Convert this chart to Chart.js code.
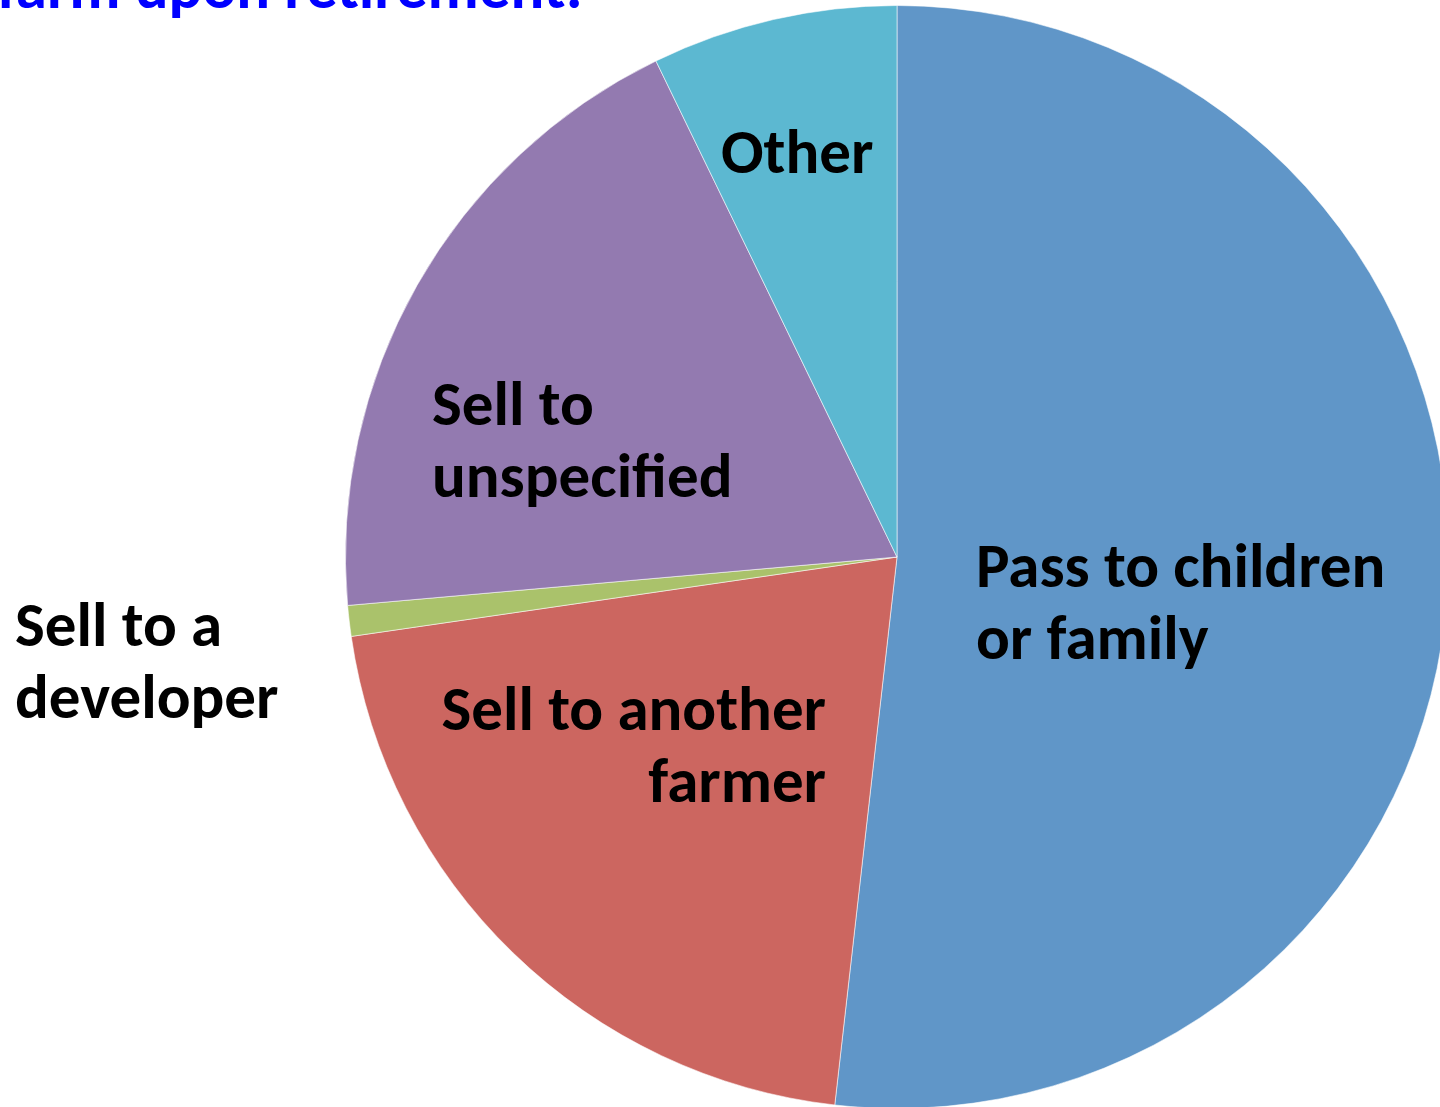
<!DOCTYPE html>
<html>
<head>
<meta charset="utf-8">
<script src="https://cdn.jsdelivr.net/npm/chart.js@4.4.1/dist/chart.umd.min.js"></script>
<style>
    html, body { margin: 0; padding: 0; background: #fff; overflow: hidden; }
    #wrap { position: absolute; left: 0; top: 0; width: 1500px; height: 1120px; }
</style>
</head>
<body>
<div id="wrap"><canvas id="myChart" width="1500" height="1120"></canvas></div>
<script>
// data (percent of respondents)
var categories = ['Pass to children or family', 'Sell to another farmer', 'Sell to a developer', 'Sell to unspecified', 'Other'];
var shares = [51.8, 20.9, 0.9, 19.2, 7.2];
var sliceColors = ['#6096C8', '#CC6660', '#AAC26B', '#937AB0', '#5CB8D1'];

// label text as it is wrapped in the picture
var labelLines = [
    ['Pass to children', 'or family'],
    ['Sell to another', 'farmer'],
    ['Sell to a', 'developer'],
    ['Sell to', 'unspecified'],
    ['Other']
];
// where each label box sits (x, first baseline, alignment)
var labelPlaces = [
    { x: 976, y: 587, align: 'left' },
    { x: 826, y: 730, align: 'right' },
    { x: 15, y: 646, align: 'left' },
    { x: 432, y: 425, align: 'left' },
    { x: 721, y: 173, align: 'left' }
];
var titleText = 'farm upon retirement:';

var labelFont = 'bold 63px Carlito, Lato, "Open Sans", sans-serif';
var lineGap = 72;

var labelPlugin = {
    id: 'sliceLabels',
    afterDraw: function(chart) {
        var ctx = chart.ctx;
        ctx.save();
        ctx.font = labelFont;
        ctx.textBaseline = 'alphabetic';
        ctx.fillStyle = '#000';
        labelLines.forEach(function(lines, i) {
            var p = labelPlaces[i];
            ctx.textAlign = p.align;
            lines.forEach(function(t, j) {
                ctx.fillText(t, p.x, p.y + j * lineGap);
            });
        });
        // title, mostly cut off at the top edge
        ctx.fillStyle = '#0000FF';
        ctx.textAlign = 'right';
        ctx.fillText(titleText, 583, 8);
        ctx.restore();
    }
};

var ctx = document.getElementById('myChart').getContext('2d');
var myChart = new Chart(ctx, {
    type: 'pie',
    data: {
        labels: categories,
        datasets: [{
            data: shares,
            backgroundColor: sliceColors,
            borderColor: 'rgba(255,255,255,0.55)',
            borderWidth: 1
        }]
    },
    options: {
        responsive: false,
        animation: false,
        devicePixelRatio: 1,
        layout: {
            padding: { left: 345, right: 51, top: 5, bottom: 11 }
        },
        plugins: {
            legend: { display: false },
            tooltip: { enabled: false },
            title: { display: false }
        }
    },
    plugins: [labelPlugin]
});
</script>
</body>
</html>
